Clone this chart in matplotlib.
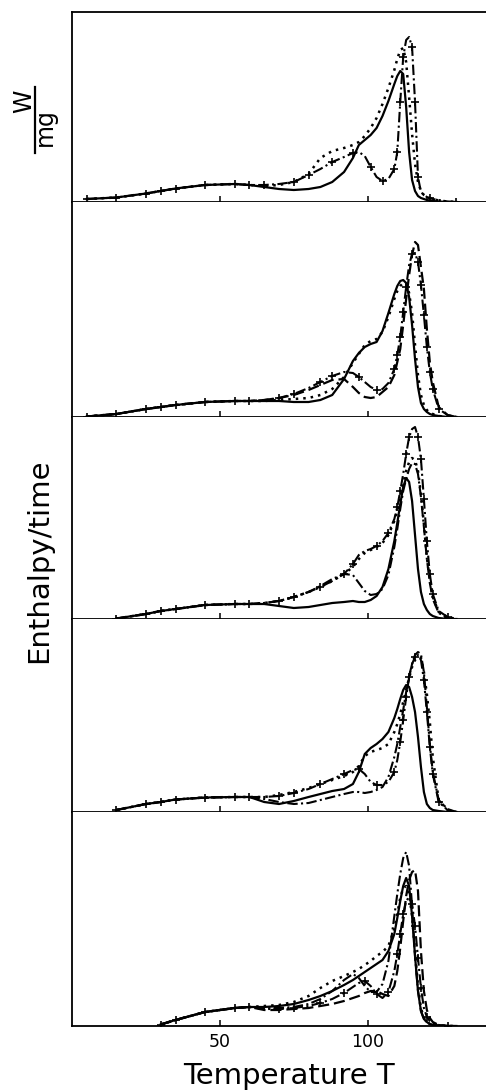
import numpy as np
import matplotlib.pyplot as plt
from matplotlib.lines import Line2D

plt.rcParams['font.family'] = ['DejaVu Sans']

# ---------------- data (heights, px above baseline) ----------------
# temperature grid shared by all curves
T = [5, 15, 25, 30, 35, 45, 55, 60,
     65, 70, 75, 80, 84, 88, 92, 95, 97, 99, 101, 103, 105, 107, 109, 110, 111,
     112, 113, 114, 115, 116, 117, 118, 119, 120, 121, 122, 124, 127, 130]

# low temperature part (T = 5 ... 60), common to all curves of a panel
low1 = [3, 4.5, 8.5, 11, 13.5, 17, 18, 17]
low2 = [0.5, 3, 8, 10, 12, 15, 16, 16]
low3 = [np.nan, 0.5, 5, 8, 10, 14, 15, 15]
low4 = [np.nan, 2, 8, 10, 12.5, 14.5, 15, 15]
low5 = [np.nan, np.nan, np.nan, 1.5, 6, 14, 18, 19]

# T = 65 ... 130
p1_solid = [15, 13, 12, 13, 15, 20, 30, 44, 57, 62, 67, 74, 86, 101, 118, 126, 131, 128, 95, 50,
            22, 11, 6, 4, 3, 2, 1.5, 1, 0.5, 0, 0]
p1_dotted = [16, 17, 20, 28, 44, 51, 54, 57, 60, 66, 74, 84, 98, 114, 132, 143, 152, 154, 140, 105,
             68, 38, 20, 11, 7, 5, 4, 3, 1.5, 0.5, 0]
p1_dashdot_plus = [17, 18, 20, 27, 33, 40, 45, 49, 50, 46, 35, 25, 21, 23, 33, 50, 100, 145, 162, 165,
                   155, 100, 25, 10, 7, 5, 4, 3, 2, 0.5, 0]

p2_solid = [16, 16, 15, 15, 17, 22, 38, 56, 64, 70, 73, 75, 86, 104, 123, 131, 136, 137, 134, 120,
            92, 58, 30, 14, 8, 5, 3, 2, 1, 0, 0]
p2_dotted = [16, 17, 18, 19, 22, 28, 40, 54, 63, 72, 76, 78, 85, 100, 118, 126, 131, 134, 133, 124,
             104, 72, 42, 22, 12, 7, 4, 3, 1, 0, 0]
p2_dashed = [17, 19, 22, 27, 32, 37, 38, 30, 24, 20, 19, 20, 25, 30, 42, 55, 68, 92, 118, 142,
             162, 175, 172, 150, 128, 88, 55, 35, 10, 2, 0]
p2_dashdot_plus = [17, 19, 23, 29, 35, 41, 45, 44, 40, 35, 30, 27, 28, 34, 48, 62, 80, 105, 130, 152,
                   163, 164, 155, 132, 102, 70, 45, 28, 8, 2, 0]

p3_dashdot_plus = [16, 18, 22, 27, 32, 38, 45, 55, 64, 68, 70, 73, 78, 86, 100, 112, 128, 145, 165, 182,
                   190, 192, 182, 160, 120, 78, 45, 25, 8, 2, 0]
p3_dotted = [16, 18, 22, 27, 32, 38, 45, 52, 60, 66, 69, 72, 76, 84, 98, 108, 120, 135, 148, 157,
             161, 159, 148, 125, 95, 62, 38, 22, 7, 2, 0]
p3_solid = [15, 13, 11, 12, 14, 16, 17, 18, 17, 17, 19, 23, 32, 50, 78, 96, 115, 132, 141, 137,
            118, 84, 50, 27, 15, 9, 5, 3, 1, 0, 0]
p3_dashdot = [16, 18, 22, 27, 33, 40, 45, 44, 36, 28, 24, 25, 30, 44, 72, 90, 110, 128, 140, 150,
              156, 155, 145, 122, 92, 60, 36, 20, 6, 1, 0]

p4_solid = [10, 8, 11, 15, 18, 21, 23, 28, 40, 58, 64, 68, 73, 80, 94, 103, 113, 122, 127, 125,
            115, 100, 75, 45, 20, 8, 4, 2, 1, 0, 0]
p4_dotted = [15, 17, 20, 24, 28, 32, 36, 40, 46, 56, 60, 62, 64, 68, 80, 88, 98, 110, 122, 134,
             145, 152, 155, 154, 140, 118, 90, 55, 12, 2, 0]
p4_dashdot_plus = [15, 16, 19, 23, 28, 33, 38, 42, 43, 38, 30, 27, 27, 30, 40, 52, 70, 92, 115, 135,
                   148, 155, 157, 152, 132, 100, 65, 38, 10, 2, 0]
p4_dashdot = [13, 10, 8, 9, 12, 15, 18, 20, 20, 19, 20, 22, 25, 35, 55, 68, 85, 102, 120, 136,
              148, 157, 160, 158, 140, 105, 68, 40, 12, 3, 0]

p5_solid = [19, 20, 22, 26, 30, 35, 41, 46, 50, 54, 58, 62, 66, 75, 92, 108, 125, 140, 148, 140,
            110, 70, 35, 15, 7, 4, 2, 1, 0.5, 0, 0]
p5_dotted = [20, 21, 24, 30, 38, 45, 50, 54, 57, 61, 65, 70, 74, 80, 97, 112, 128, 138, 140, 132,
             110, 75, 40, 18, 8, 4, 2, 1, 0.5, 0, 0]
p5_dashdot = [18, 18, 19, 22, 27, 35, 46, 52, 48, 40, 34, 34, 42, 65, 110, 132, 152, 168, 174, 160,
              120, 70, 35, 15, 7, 4, 2, 1, 0, 0, 0]
p5_dashdot_plus = [17, 17, 18, 20, 23, 27, 33, 39, 43, 45, 40, 32, 28, 34, 55, 72, 92, 112, 125, 129,
                   122, 100, 68, 38, 18, 9, 5, 3, 1, 0, 0]
p5_dashed = [16, 16, 17, 18, 20, 22, 25, 28, 30, 33, 35, 35, 32, 30, 40, 55, 78, 105, 130, 146,
             154, 156, 135, 75, 35, 16, 8, 4, 1, 0, 0]

panels = [
    (low1, [('dotted', p1_dotted), ('solid', p1_solid), ('dashdot_plus', p1_dashdot_plus)]),
    (low2, [('dotted', p2_dotted), ('solid', p2_solid), ('dashed', p2_dashed),
            ('dashdot_plus', p2_dashdot_plus)]),
    (low3, [('dotted', p3_dotted), ('solid', p3_solid), ('dashdot', p3_dashdot),
            ('dashdot_plus', p3_dashdot_plus)]),
    (low4, [('dotted', p4_dotted), ('solid', p4_solid), ('dashdot', p4_dashdot),
            ('dashdot_plus', p4_dashdot_plus)]),
    (low5, [('dotted', p5_dotted), ('solid', p5_solid), ('dashed', p5_dashed),
            ('dashdot', p5_dashdot), ('dashdot_plus', p5_dashdot_plus)]),
]

styles = {
    'solid': dict(ls='-', lw=1.6),
    'dotted': dict(ls=(0, (1, 2.0)), lw=1.8),
    'dashed': dict(ls=(0, (5, 2.2)), lw=1.6),
    'dashdot': dict(ls=(0, (5, 1.6, 1, 1.6)), lw=1.5),
    'dashdot_plus': dict(ls=(0, (5, 1.6, 1, 1.6)), lw=1.5, marker='+', ms=6, mew=1.2,
                         markevery=0.05),
}

# ---------------- layout (pixel bounds of the stacked panels) ----------------
W, H = 486, 1092
x0 = 72
panel_px = [(12, 202), (202, 417), (417, 619), (619, 812), (812, 1026)]

fig = plt.figure(figsize=(W / 100, H / 100), dpi=100)
T = np.array(T, dtype=float)

for i, ((top, bot), (low, curves)) in enumerate(zip(panel_px, panels)):
    ax = fig.add_axes([x0 / W, 1 - bot / H, (W - x0) / W, (bot - top) / H])
    for style, tail in curves:
        y = np.array(low + tail, dtype=float)
        ok = np.isfinite(y)
        ax.plot(T[ok], y[ok], color='black', **styles[style])
    ax.set_xlim(0, 140)
    ax.set_ylim(0, bot - top)
    ax.spines['right'].set_visible(False)
    ax.spines['top'].set_visible(i == 0)
    for s in ('left', 'bottom', 'top'):
        ax.spines[s].set_linewidth(1.3)
    ax.set_xticks([50, 100])
    ax.tick_params(axis='x', direction='in', length=4, width=1.1, pad=5,
                   labelbottom=(i == len(panel_px) - 1), labelsize=12.5)
    ax.set_yticks([])

fig.text(289 / W, 1 - 1076 / H, 'Temperature T', ha='center', va='center', fontsize=21)
fig.text(39 / W, 1 - 561 / H, 'Enthalpy/time', rotation=90, ha='center', va='center', fontsize=21)

# W / mg unit label (rotated fraction)
fig.text(24 / W, 1 - 101 / H, 'W', rotation=90, ha='center', va='center', fontsize=17)
fig.add_artist(Line2D([35 / W, 35 / W], [1 - 87 / H, 1 - 153 / H], color='black', lw=1.6))
fig.text(45 / W, 1 - 127 / H, 'mg', rotation=90, ha='center', va='center', fontsize=17)

fig.savefig('out.png', dpi=100)
